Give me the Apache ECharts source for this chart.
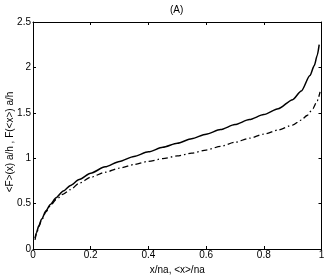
<!DOCTYPE html>
<html>
<head>
<meta charset="utf-8">
<script src="https://cdn.jsdelivr.net/npm/echarts@6/dist/echarts.min.js"></script>
<style>
html,body{margin:0;padding:0;background:#fff;}
#c{width:327px;height:276px;}
</style>
</head>
<body>
<div id="c"></div>
<script>
var title = "(A)";
var xName = "x/na, <x>/na";
var yName = "<F>(x) a/h , F(<x>) a/h";

var solidX = [0.007, 0.012, 0.02, 0.03, 0.045, 0.06, 0.08, 0.105, 0.13, 0.16, 0.2, 0.25, 0.3, 0.35, 0.4, 0.45, 0.5, 0.55, 0.6, 0.65, 0.7, 0.75, 0.8, 0.85, 0.9, 0.93, 0.96, 0.975, 0.985, 0.992];
var solidY = [0.12, 0.18, 0.255, 0.33, 0.42, 0.49, 0.565, 0.64, 0.70, 0.765, 0.835, 0.905, 0.965, 1.02, 1.07, 1.12, 1.165, 1.215, 1.265, 1.315, 1.37, 1.425, 1.48, 1.545, 1.645, 1.74, 1.91, 2.02, 2.13, 2.25];

var dashX = [0.007, 0.012, 0.02, 0.03, 0.045, 0.06, 0.08, 0.105, 0.13, 0.16, 0.2, 0.25, 0.3, 0.35, 0.4, 0.45, 0.5, 0.55, 0.6, 0.65, 0.7, 0.75, 0.8, 0.85, 0.9, 0.93, 0.95, 0.97, 0.985, 0.995];
var dashY = [0.1, 0.165, 0.245, 0.32, 0.41, 0.475, 0.545, 0.605, 0.655, 0.725, 0.79, 0.845, 0.89, 0.93, 0.965, 0.995, 1.025, 1.055, 1.09, 1.13, 1.175, 1.22, 1.265, 1.31, 1.365, 1.42, 1.47, 1.545, 1.63, 1.73];

function pairs(xs, ys){ return xs.map(function(x,i){ return [x, ys[i]]; }); }

var font = "'Liberation Sans', Arial, sans-serif";
var chart = echarts.init(document.getElementById('c'), null, {renderer:'canvas'});
var axisCommon = {
  axisLine:{show:true, onZero:false, lineStyle:{color:'#000', width:1}},
  axisTick:{show:true, inside:true, length:3, lineStyle:{color:'#000'}},
  splitLine:{show:false}
};
chart.setOption({
  animation:false,
  backgroundColor:'#fff',
  graphic:[
    {type:'text', left:170, top:5, style:{text:title, fontFamily:font, fontSize:10, fill:'#000'}},
    {type:'text', x:10, y:142, rotation:Math.PI/2,
      style:{text:yName, fontFamily:font, fontSize:10, fill:'#000', align:'center', verticalAlign:'middle'}}
  ],
  grid:{left:33, right:5.5, top:22, bottom:27, containLabel:false, outerBoundsMode:'none'},
  xAxis:[
    Object.assign({type:'value', min:0, max:1, interval:0.2, position:'bottom',
      name:xName, nameLocation:'middle', nameGap:12,
      nameTextStyle:{fontFamily:font, fontSize:10, color:'#000'},
      axisLabel:{fontFamily:font, fontSize:10, color:'#000', margin:1,
        formatter:function(v){return String(Math.round(v*10)/10);}}}, axisCommon),
    Object.assign({type:'value', min:0, max:1, interval:0.2, position:'top',
      axisLabel:{show:false}}, axisCommon)
  ],
  yAxis:[
    Object.assign({type:'value', min:0, max:2.5, interval:0.5, position:'left',
      axisLabel:{fontFamily:font, fontSize:10, color:'#000', margin:2}}, axisCommon),
    Object.assign({type:'value', min:0, max:2.5, interval:0.5, position:'right',
      axisLabel:{show:false}}, axisCommon)
  ],
  series:[
    {type:'line', data:pairs(solidX, solidY), showSymbol:false, smooth:0.25, smoothMonotone:'x',
      lineStyle:{color:'#000', width:1.5, type:'solid'}},
    {type:'line', data:pairs(dashX, dashY), showSymbol:false, smooth:0.25, smoothMonotone:'x',
      lineStyle:{color:'#000', width:1.3, type:[6,3,1.5,3]}}
  ]
});
</script>
</body>
</html>
